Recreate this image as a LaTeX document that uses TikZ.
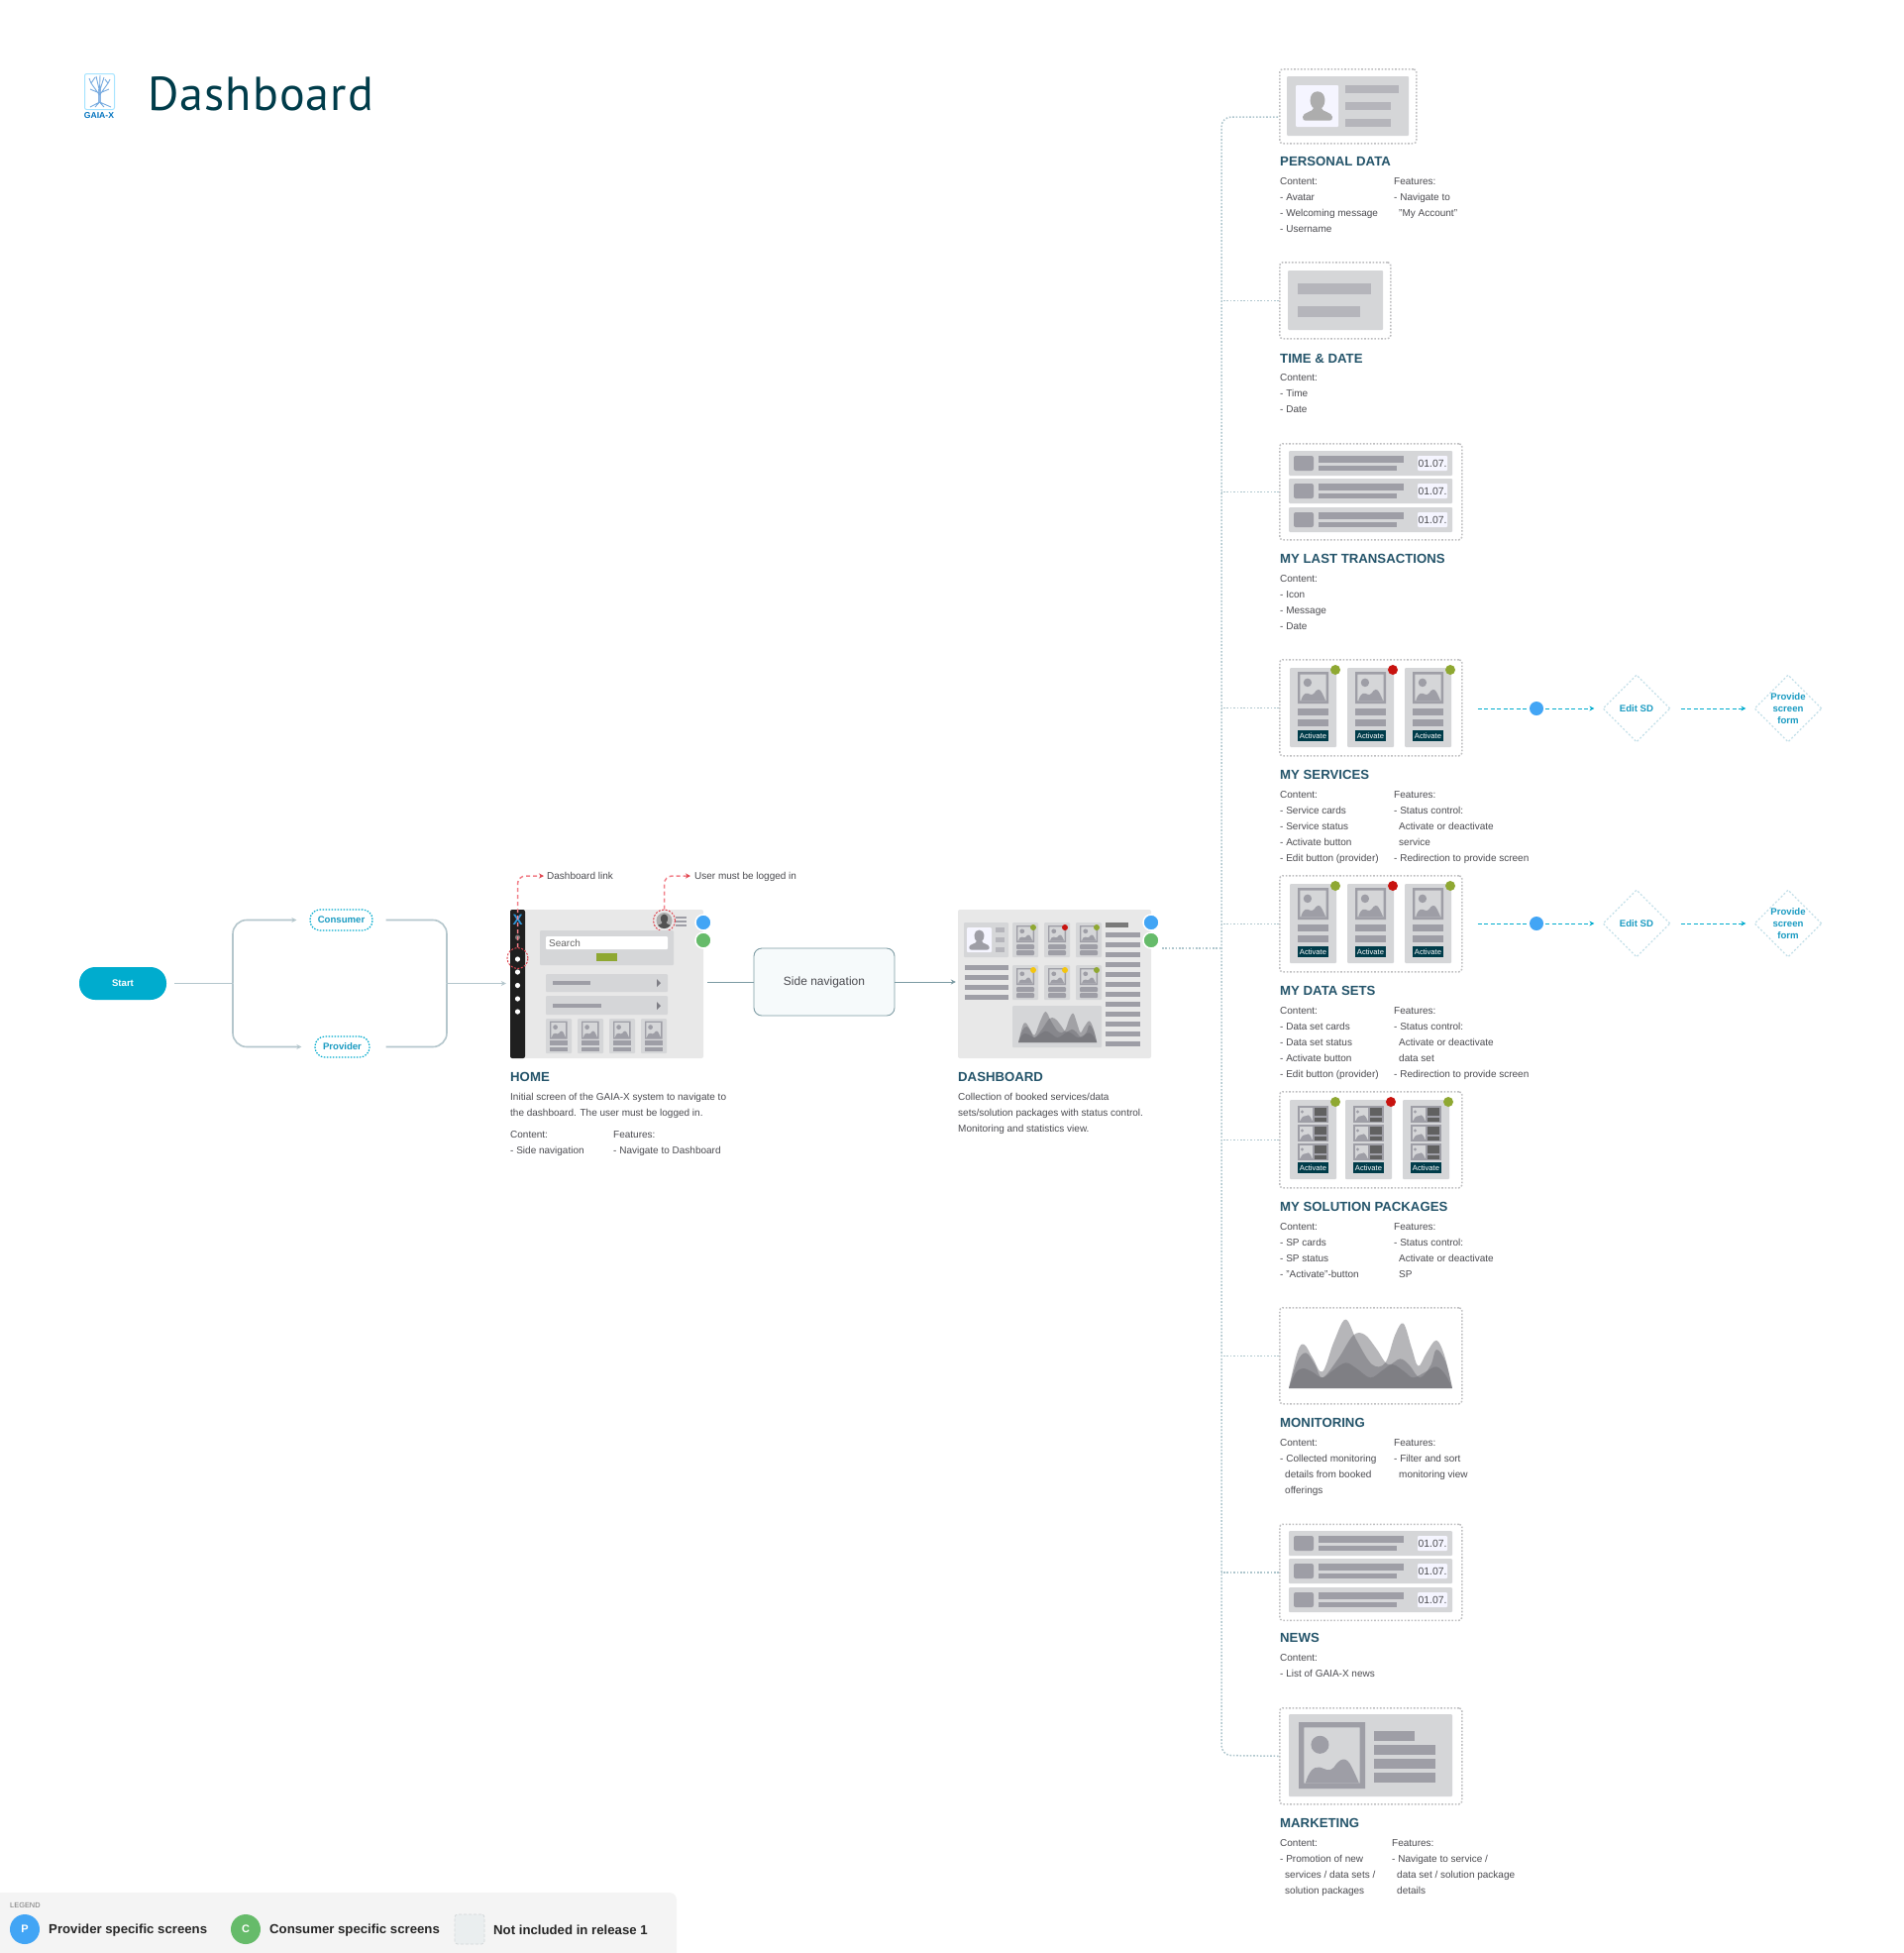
\documentclass[tikz,border=0pt]{standalone}
\usepackage{fontspec}
\setmainfont{Liberation Sans}
\newfontfamily\titlefont[LetterSpace=2.2]{PT Sans}
\usetikzlibrary{arrows.meta,shapes.geometric}
\definecolor{scr}{HTML}{E8E8E8}
\definecolor{pan}{HTML}{D5D6D8}
\definecolor{barc}{HTML}{9E9EA6}
\definecolor{barl}{HTML}{B5B5BB}
\definecolor{bodyc}{HTML}{4B4B50}
\definecolor{headc}{HTML}{24546A}
\definecolor{teal}{HTML}{003C4A}
\definecolor{okg}{HTML}{8FA832}
\definecolor{badr}{HTML}{C8130F}
\definecolor{warny}{HTML}{F4C50E}
\definecolor{pblue}{HTML}{42A5F5}
\definecolor{cgreen}{HTML}{66BB6A}
\definecolor{cyanm}{HTML}{00ACCE}
\definecolor{cyant}{HTML}{1A9BC2}
\definecolor{lineg}{HTML}{B4C6CC}
\definecolor{lined}{HTML}{7C9BA3}
\definecolor{dotb}{HTML}{AEC6CD}
\definecolor{dotg}{HTML}{BEBEC0}
\definecolor{diac}{HTML}{C4E0E9}
\definecolor{pinkl}{HTML}{F2808A}
\definecolor{redl}{HTML}{E0454F}
\definecolor{chartc}{HTML}{6E6E74}
\definecolor{legfill}{HTML}{EAEEEF}
\definecolor{legdash}{HTML}{D2D6D8}
\definecolor{sidefill}{HTML}{F6FAFB}
\tikzset{
  body/.style={anchor=base west,inner sep=0pt,text=bodyc,font=\fontsize{10}{13}\selectfont},
  head/.style={anchor=base west,inner sep=0pt,text=headc,font=\fontsize{13.2}{16}\selectfont\bfseries},
  datet/.style={inner sep=0pt,text=bodyc,font=\fontsize{10.4}{12}\selectfont},
  actt/.style={inner sep=0pt,text=white,font=\fontsize{7.6}{9}\selectfont},
  dotbox/.style={draw=dotg,line width=1.5pt,dash pattern=on 1.6pt off 1.8pt,rounded corners=3pt,inner sep=0pt,anchor=north west},
  conn/.style={draw=lineg,line width=1.6pt},
  thin conn/.style={draw=lined,line width=1pt},
  dotconn/.style={draw=dotb,line width=1.5pt,dash pattern=on 1.6pt off 1.8pt},
  dashconn/.style={draw=cyanm,line width=1pt,dash pattern=on 4pt off 2.5pt},
  pinkconn/.style={draw=pinkl,line width=1.5pt,dash pattern=on 4pt off 3pt},
  tip/.style={-{Stealth[length=5pt,width=5pt]}},
  role/.style={draw=cyanm,line width=1.2pt,dash pattern=on 1.5pt off 1.5pt,rounded corners=10pt,inner sep=0pt,text=cyant,font=\fontsize{9.6}{11}\selectfont\bfseries},
  dia/.style={diamond,aspect=1,draw=diac,line width=1.2pt,dash pattern=on 2pt off 2pt,inner sep=0pt,minimum width=68pt,minimum height=68pt,text=cyant,align=center,font=\fontsize{9.6}{12}\selectfont\bfseries},
  badge/.style={circle,fill=#1,draw=white,line width=1.5pt,inner sep=0pt,minimum size=16pt},
  flag/.style={circle,fill=#1,inner sep=0pt,minimum size=10pt},
  leg/.style={anchor=base west,inner sep=0pt,text=black!85,font=\fontsize{13.2}{15}\selectfont\bfseries},
  rr/.style={rounded corners=1pt}
}
\newcounter{tn}
\newcommand{\txt}[4][body]{\stepcounter{tn}\node[#1,name=t\arabic{tn}] at (#2,#3) {#4};}
\newcommand{\ind}{\hspace*{5pt}}
\newcommand{\blk}[3]{\foreach \l [count=\i from 0] in {#3} {\txt{#1}{#2+3+16*\i}{\l}}}
\newcommand{\sect}[3]{\txt[head]{#1}{#2+5}{#3}}
\newcommand{\imgicon}[4]{\begin{scope}[shift={({#1},{#2})},xscale=#3,yscale=#4]
  \fill[barc,even odd rule] (0,0) rectangle (1,1) (.08,.08) rectangle (.92,.92);
  \fill[barc] (.32,.34) ellipse [x radius=.135,y radius=.135];
  \fill[barc] (.1,.92) .. controls (.15,.75) and (.22,.66) .. (.32,.68) .. controls (.4,.70) and (.45,.76) .. (.53,.68) .. controls (.62,.54) and (.72,.5) .. (.8,.68) .. controls (.85,.78) and (.88,.85) .. (.91,.92) -- cycle;
\end{scope}}
\newcommand{\avatar}[4]{\begin{scope}[shift={({#1},{#2})},scale=#3]
  \fill[#4] (0,-14.7) .. controls (9,-14.7) and (9,-1) .. (4,2) .. controls (4,6) and (15,6) .. (15,11) .. controls (15,14) and (14,14.7) .. (12,14.7) -- (-12,14.7) .. controls (-14,14.7) and (-15,14) .. (-15,11) .. controls (-15,6) and (-4,6) .. (-4,2) .. controls (-9,-1) and (-9,-14.7) .. (0,-14.7) -- cycle;
\end{scope}}
\newcommand{\areachart}[4]{\begin{scope}[shift={({#1},{#2})},xscale=#3,yscale=#4]
  \fill[chartc,opacity=.5] plot[smooth,tension=.6] coordinates {(0,0)(27,-112)(47,-132)(72,-92)(102,-50)(137,-142)(172,-208)(207,-142)(252,-72)(292,-77)(322,-162)(347,-196)(372,-122)(392,-67)(417,-107)(447,-145)(472,-97)(495,0)} -- cycle;
  \fill[chartc,opacity=.5] plot[smooth,tension=.6] coordinates {(0,0)(25,-80)(52,-107)(80,-70)(102,-32)(150,-90)(195,-160)(230,-162)(265,-120)(300,-72)(337,-89)(365,-70)(397,-32)(430,-70)(447,-117)(475,-80)(495,0)} -- cycle;
  \fill[chartc,opacity=.5] plot[smooth,tension=.6] coordinates {(0,0)(20,-45)(42,-60)(70,-50)(102,-32)(135,-55)(172,-77)(205,-60)(247,-32)(285,-55)(315,-72)(350,-50)(377,-32)(415,-50)(447,-65)(475,-40)(495,0)} -- cycle;
\end{scope}}
\newcommand{\txnrows}[1]{\foreach \o in {0,28,57}{
  \fill[pan,rr] (1301,#1+\o) rectangle (1466,#1+\o+25);
  \fill[barc,rounded corners=2pt] (1306,#1+\o+5) rectangle (1326,#1+\o+20);
  \fill[barc] (1331,#1+\o+5) rectangle (1417,#1+\o+12);
  \fill[barc] (1331,#1+\o+15) rectangle (1410,#1+\o+20);
  \fill[white!96!blue,rr] (1431,#1+\o+5) rectangle (1461,#1+\o+20);
  \txt[datet]{1446}{#1+\o+12.5}{01.07.}
}}
\newcommand{\svcards}[1]{\foreach \cx/\col in {1302/okg,1360/badr,1418/okg}{
  \fill[pan,rr] (\cx,#1+9) rectangle (\cx+47,#1+89);
  \imgicon{\cx+8}{#1+13}{31}{32}
  \fill[barc] (\cx+8,#1+50) rectangle (\cx+39,#1+57);
  \fill[barc] (\cx+8,#1+61) rectangle (\cx+39,#1+68);
  \fill[teal] (\cx+8,#1+72) rectangle (\cx+39,#1+83);
  \txt[actt]{\cx+23.5}{#1+77.5}{Activate}
  \stepcounter{tn}\node[flag=\col,name=t\arabic{tn}] at (\cx+46,#1+11) {};
}}
\newcommand{\spcards}[1]{\foreach \cx/\dx/\col in {1302/1348/okg,1358/1404/badr,1416/1462/okg}{
  \fill[pan,rr] (\cx,#1+9) rectangle (\cx+47,#1+89);
  \foreach \ry in {15,34,53}{
    \fill[barc] (\cx+8,#1+\ry) rectangle (\cx+39,#1+\ry+17);
    \fill[pan] (\cx+10,#1+\ry+2) rectangle (\cx+23,#1+\ry+15);
    \fill[barc] (\cx+12.5,#1+\ry+6) circle (1.6pt);
    \fill[barc] (\cx+10.5,#1+\ry+15) .. controls (\cx+13,#1+\ry+9) and (\cx+15,#1+\ry+11) .. (\cx+17,#1+\ry+10) .. controls (\cx+19,#1+\ry+8) and (\cx+21,#1+\ry+11) .. (\cx+22.5,#1+\ry+15) -- cycle;
    \fill[black!62] (\cx+25,#1+\ry+2) rectangle (\cx+37,#1+\ry+10);
    \fill[black!62] (\cx+25,#1+\ry+12) rectangle (\cx+37,#1+\ry+16);
  }
  \fill[teal] (\cx+8,#1+72) rectangle (\cx+39,#1+83);
  \txt[actt]{\cx+23.5}{#1+77.5}{Activate}
  \stepcounter{tn}\node[flag=\col,name=t\arabic{tn}] at (\dx,#1+11) {};
}}
\newcommand{\flow}[2]{ % #1 box name, #2 y
  \node[circle,fill=pblue,inner sep=0pt,minimum size=14pt,name=#1dot] at (1551,#2) {};
  \node[dia,name=#1edit] at (1652,#2) {Edit SD};
  \node[dia,name=#1form] at (1805,#2) {Provide\\screen\\form};
  \draw[dashconn,shorten <=15pt,shorten >=2pt] (#1.east |- #1dot) -- (#1dot.west);
  \draw[dashconn,tip,shorten <=2pt,shorten >=8pt] (#1dot.east) -- (#1edit.west);
  \draw[dashconn,tip,shorten <=10pt,shorten >=8pt] (#1edit.east) -- (#1form.west);
}
\begin{document}
\begin{tikzpicture}[x=1pt,y=-1pt]
\useasboundingbox (0,0) rectangle (1922,1971);
\fill[white] (0,0) rectangle (1922,1971);

%% Title and logo
\node[draw=blue!30!cyan!35,line width=1pt,rounded corners=2pt,inner sep=0pt,minimum width=30pt,minimum height=36pt,anchor=north west,name=logo] at (85,74) {};
\draw[cyan!60!blue!45,line width=2.6pt] (100.5,90) -- (100.5,104);
\draw[cyan!60!blue!55,line width=.9pt] (100.5,96) -- (92,84) -- (90,79) (92,84) -- (96,78) (100.5,92) -- (97,77) (100.5,92) -- (101,76) (100.5,92) -- (105,78) (100.5,96) -- (109,84) -- (111,80) (109,84) -- (106,80) (100.5,94) -- (91,90) (100.5,94) -- (110,90) (100.5,103) -- (91,108) (100.5,103) -- (96,108) (100.5,103) -- (105,108) (100.5,103) -- (112,108);
\node[inner sep=0pt,text=blue!40!cyan!75!black,font=\fontsize{8.6}{10}\selectfont\bfseries,name=logotext] at (100,117) {GAIA-X};
\node[anchor=base west,inner sep=0pt,text=teal,font=\fontsize{48}{50}\selectfont\titlefont,name=pagetitle] at (149,111) {Dashboard};

%% Start and roles
\node[fill=cyanm,rounded corners=16pt,minimum width=88pt,minimum height=33pt,inner sep=0pt,text=white,font=\fontsize{9.6}{11}\selectfont\bfseries,name=start] at (124,992.5) {Start};
\node[role,minimum width=63pt,minimum height=21pt,name=consumer] at (344.5,928.5) {\raisebox{-1pt}{Consumer}};
\node[role,minimum width=55pt,minimum height=21pt,name=provider] at (345.5,1056.5) {\raisebox{-1pt}{Provider}};
\coordinate (jl) at (235,992.5);
\coordinate (jr) at (451,992.5);

%% Home screen
\node[fill=scr,rounded corners=2pt,minimum width=195pt,minimum height=150pt,inner sep=0pt,name=home] at (612.5,993) {};
\fill[black!88,rounded corners=2pt] (515,918) rectangle (530,1068);
\node[inner sep=0pt,text=cyan!70!blue!85,font=\fontsize{15}{16}\selectfont\bfseries,name=homex] at (522.5,928) {X};
\foreach \dy in {968,981,994.5,1008,1021} \fill[white] (522.5,\dy) circle (2.6pt);
\fill[black!55] (522.5,946) circle (2.6pt);
\node[circle,draw=redl,line width=1pt,dash pattern=on 2pt off 1.5pt,minimum size=21pt,inner sep=0pt,name=navring] at (522.5,967) {};
\fill[black!32] (670.5,929) circle (8pt);
\begin{scope}\clip (670.5,929) circle (8pt); \avatar{670.5}{930}{.5}{black!68} \end{scope}
\node[circle,draw=redl,line width=1pt,dash pattern=on 2pt off 1.5pt,minimum size=22pt,inner sep=0pt,name=avatarring] at (670.5,929) {};
\foreach \hy in {926,930,934} \fill[barc] (682,\hy-.7) rectangle (693,\hy+.7);
\fill[pan,rr] (545,939) rectangle (680,974);
\fill[white,rr] (551,945) rectangle (674,958);
\txt[body,text=black!60]{554}{955}{Search}
\fill[okg] (602,962) rectangle (623,970);
\fill[pan,rr] (551,983) rectangle (674,1001);
\fill[barc] (558,990) rectangle (596,994);
\fill[barc!80!black] (663,988) -- (667,992) -- (663,996) -- cycle;
\fill[pan,rr] (551,1005) rectangle (674,1024);
\fill[barc] (558,1013) rectangle (607,1017);
\fill[barc!80!black] (663,1011) -- (667,1015) -- (663,1019) -- cycle;
\foreach \cx in {551,583,615,647}{
  \fill[pan,rr] (\cx,1028) rectangle (\cx+26,1063);
  \imgicon{\cx+4}{1030.5}{17.5}{18}
  \fill[barc] (\cx+4,1050) rectangle (\cx+22,1055);
  \fill[barc] (\cx+4,1057) rectangle (\cx+22,1061);
}
\node[badge=pblue,name=homep] at (710,931) {};
\node[badge=cgreen,name=homec] at (710,949) {};
\coordinate (navlabel) at (549,884);
\coordinate (avatarlabel) at (697,884);
\txt[body]{552}{887.5}{Dashboard link}
\txt[body]{701}{887.5}{User must be logged in}
\draw[pinkconn,rounded corners=8pt,-{Stealth[length=5pt,width=5pt,color=redl]}] (navring.north) -- (navring.north |- navlabel) -- (navlabel);
\draw[pinkconn,rounded corners=8pt,-{Stealth[length=5pt,width=5pt,color=redl]}] (avatarring.north) -- (avatarring.north |- avatarlabel) -- (avatarlabel);
\sect{515}{1086}{HOME}
\blk{515}{1107}{{Initial screen of the GAIA-X system to navigate to},{the dashboard. The user must be logged in.}}
\blk{515}{1145}{{Content:},{- Side navigation}}
\blk{619}{1145}{{Features:},{- Navigate to Dashboard}}

%% Left connectors
\draw[conn,shorten <=8pt] (start.east) -- (jl);
\draw[conn,tip,rounded corners=14pt,shorten >=13pt] (jl) |- (consumer.west);
\draw[conn,tip,rounded corners=14pt,shorten >=13pt] (jl) |- (provider.west);
\draw[conn,rounded corners=14pt,shorten <=13pt] (consumer.east) -| (jr);
\draw[conn,rounded corners=14pt,shorten <=16pt] (provider.east) -| (jr);
\draw[conn,tip,shorten >=4pt] (jr) -- (jr -| home.west);

%% Side navigation
\node[draw=lined,line width=.9pt,fill=sidefill,rounded corners=8pt,minimum width=142pt,minimum height=68pt,inner sep=0pt,text=bodyc,font=\fontsize{12}{15}\selectfont,name=side] at (832,991) {\raisebox{-2pt}{Side navigation}};
\node[fill=scr,rounded corners=2pt,minimum width=195pt,minimum height=150pt,inner sep=0pt,name=dash] at (1064.5,993) {};
\draw[thin conn,shorten <=4pt] (home.east |- side.west) -- (side.west);
\draw[thin conn,tip,shorten >=2pt] (side.east) -- (side.east -| dash.west);

%% Dashboard screen details
\fill[pan,rr] (973,931) rectangle (1018,966);
\fill[white!96!blue,rr] (976,936) rectangle (1001,961);
\avatar{988.5}{948.5}{.68}{barc}
\foreach \by in {936,946,956} \fill[barl] (1005,\by) rectangle (1014,\by+5);
\foreach \by in {974,984,994,1004} \fill[barc] (974,\by) rectangle (1018,\by+5);
\foreach \cx/\cy/\col in {1022/931/okg,1054/931/badr,1086/931/okg,1022/974/warny,1054/974/warny,1086/974/okg}{
  \fill[pan,rr] (\cx,\cy) rectangle (\cx+26,\cy+35);
  \imgicon{\cx+4}{\cy+3}{18}{17}
  \fill[barc,rr] (\cx+4,\cy+22) rectangle (\cx+22,\cy+27);
  \fill[barc,rr] (\cx+4,\cy+28) rectangle (\cx+22,\cy+33);
  \fill[\col] (\cx+21,\cy+5) circle (3pt);
}
\fill[pan,rr] (1022,1015) rectangle (1112,1057);
\areachart{1028}{1052}{.16}{.149}
\fill[black!52] (1116,931) rectangle (1139,936);
\foreach \by in {941,951,961,971,981,991,1001,1011,1021,1031,1041,1051} \fill[barc] (1116,\by) rectangle (1151,\by+5);
\node[badge=pblue,name=dashp] at (1162,931) {};
\node[badge=cgreen,name=dashc] at (1162,949) {};
\sect{967}{1086}{DASHBOARD}
\blk{967}{1107}{{Collection of booked services/data},{sets/solution packages with status control.},{Monitoring and statistics view.}}

%% Right-hand boxes
\node[dotbox,minimum width=138pt,minimum height=75pt,name=pd] at (1291,69) {};
\fill[pan,rr] (1299,77) rectangle (1422,137);
\fill[white!96!blue,rr] (1308,86) rectangle (1351,128);
\avatar{1330}{107}{1}{black!32}
\fill[barl] (1358,86) rectangle (1412,94);
\fill[barl] (1358,103) rectangle (1404,111);
\fill[barl] (1358,120) rectangle (1404,128);
\sect{1292}{162}{PERSONAL DATA}
\blk{1292}{183}{{Content:},{- Avatar},{- Welcoming message},{- Username}}
\blk{1407}{183}{{Features:},{- Navigate to},{\ind "My Account"}}

\node[dotbox,minimum width=112pt,minimum height=77pt,name=td] at (1291,264) {};
\fill[pan,rr] (1300,273) rectangle (1396,333);
\fill[barl] (1310,286) rectangle (1384,297);
\fill[barl] (1310,309) rectangle (1373,320);
\sect{1292}{361}{TIME \& DATE}
\blk{1292}{381.5}{{Content:},{- Time},{- Date}}

\node[dotbox,minimum width=184pt,minimum height=97pt,name=tx] at (1291,447) {};
\txnrows{455}
\sect{1292}{563}{MY LAST TRANSACTIONS}
\blk{1292}{584}{{Content:},{- Icon},{- Message},{- Date}}

\node[dotbox,minimum width=184pt,minimum height=97pt,name=sv] at (1291,665) {};
\svcards{665}
\sect{1292}{781}{MY SERVICES}
\blk{1292}{802}{{Content:},{- Service cards},{- Service status},{- Activate button},{- Edit button (provider)}}
\blk{1407}{802}{{Features:},{- Status control:},{\ind Activate or deactivate},{\ind service},{- Redirection to provide screen}}
\flow{sv}{715}

\node[dotbox,minimum width=184pt,minimum height=97pt,name=ds] at (1291,883) {};
\svcards{883}
\sect{1292}{999}{MY DATA SETS}
\blk{1292}{1020}{{Content:},{- Data set cards},{- Data set status},{- Activate button},{- Edit button (provider)}}
\blk{1407}{1020}{{Features:},{- Status control:},{\ind Activate or deactivate},{\ind data set},{- Redirection to provide screen}}
\flow{ds}{932}

\node[dotbox,minimum width=184pt,minimum height=97pt,name=sp] at (1291,1101) {};
\spcards{1101}
\sect{1292}{1217}{MY SOLUTION PACKAGES}
\blk{1292}{1238}{{Content:},{- SP cards},{- SP status},{- "Activate"-button}}
\blk{1407}{1238}{{Features:},{- Status control:},{\ind Activate or deactivate},{\ind SP}}

\node[dotbox,minimum width=184pt,minimum height=97pt,name=mo] at (1291,1319) {};
\areachart{1301}{1401}{.3333}{.3333}
\sect{1292}{1435}{MONITORING}
\blk{1292}{1456}{{Content:},{- Collected monitoring},{\ind details from booked},{\ind offerings}}
\blk{1407}{1456}{{Features:},{- Filter and sort},{\ind monitoring view}}

\node[dotbox,minimum width=184pt,minimum height=97pt,name=nw] at (1291,1537.5) {};
\txnrows{1545}
\sect{1292}{1652.5}{NEWS}
\blk{1292}{1673}{{Content:},{- List of GAIA-X news}}

\node[dotbox,minimum width=184pt,minimum height=97pt,name=mk] at (1291,1723) {};
\fill[pan,rr] (1301,1730) rectangle (1466,1813);
\imgicon{1311}{1738}{67}{67}
\fill[barc] (1387,1747) rectangle (1428,1757);
\foreach \by in {1761,1775,1789} \fill[barc] (1387,\by) rectangle (1449,\by+10);
\sect{1292}{1839}{MARKETING}
\blk{1292}{1860}{{Content:},{- Promotion of new},{\ind services / data sets /},{\ind solution packages}}
\blk{1405}{1860}{{Features:},{- Navigate to service /},{\ind data set / solution package},{\ind details}}

%% Trunk and branches
\coordinate (pdport) at (1290,118);
\coordinate (trunktop) at (1233,118);
\coordinate (trunkbot) at (1233,1771.5);
\coordinate (dashport) at (1173,957);
\draw[dotconn,rounded corners=10pt] (pdport) -- (trunktop) -- (trunkbot) -- (mk.west);
\foreach \b in {td,tx,sv,ds,sp,mo,nw} \draw[dotconn] (\b.west) -- (\b.west -| trunktop);
\draw[dotconn] (dashport) -- (dashport -| trunktop);

%% Legend
\fill[black!4.5] (0,1971) -- (0,1910) -- (675,1910) .. controls (680,1910) and (683,1913) .. (683,1918) -- (683,1971) -- cycle;
\txt[anchor=base west,inner sep=0pt,text=black!55,font=\fontsize{7.4}{9}\selectfont]{10}{1925}{LEGEND}
\node[circle,fill=pblue,minimum size=30pt,inner sep=0pt,text=white,font=\fontsize{11}{13}\selectfont\bfseries,name=legp] at (25,1947) {P};
\txt[leg]{49}{1951}{Provider specific screens}
\node[circle,fill=cgreen,minimum size=30pt,inner sep=0pt,text=white,font=\fontsize{11}{13}\selectfont\bfseries,name=legc] at (248,1947) {C};
\txt[leg]{272}{1951}{Consumer specific screens}
\node[fill=legfill,draw=legdash,dash pattern=on 3pt off 2pt,line width=.8pt,rounded corners=3pt,minimum size=30pt,inner sep=0pt,name=legn] at (474,1947) {};
\txt[leg]{498}{1952}{Not included in release 1}
\end{tikzpicture}
\end{document}
